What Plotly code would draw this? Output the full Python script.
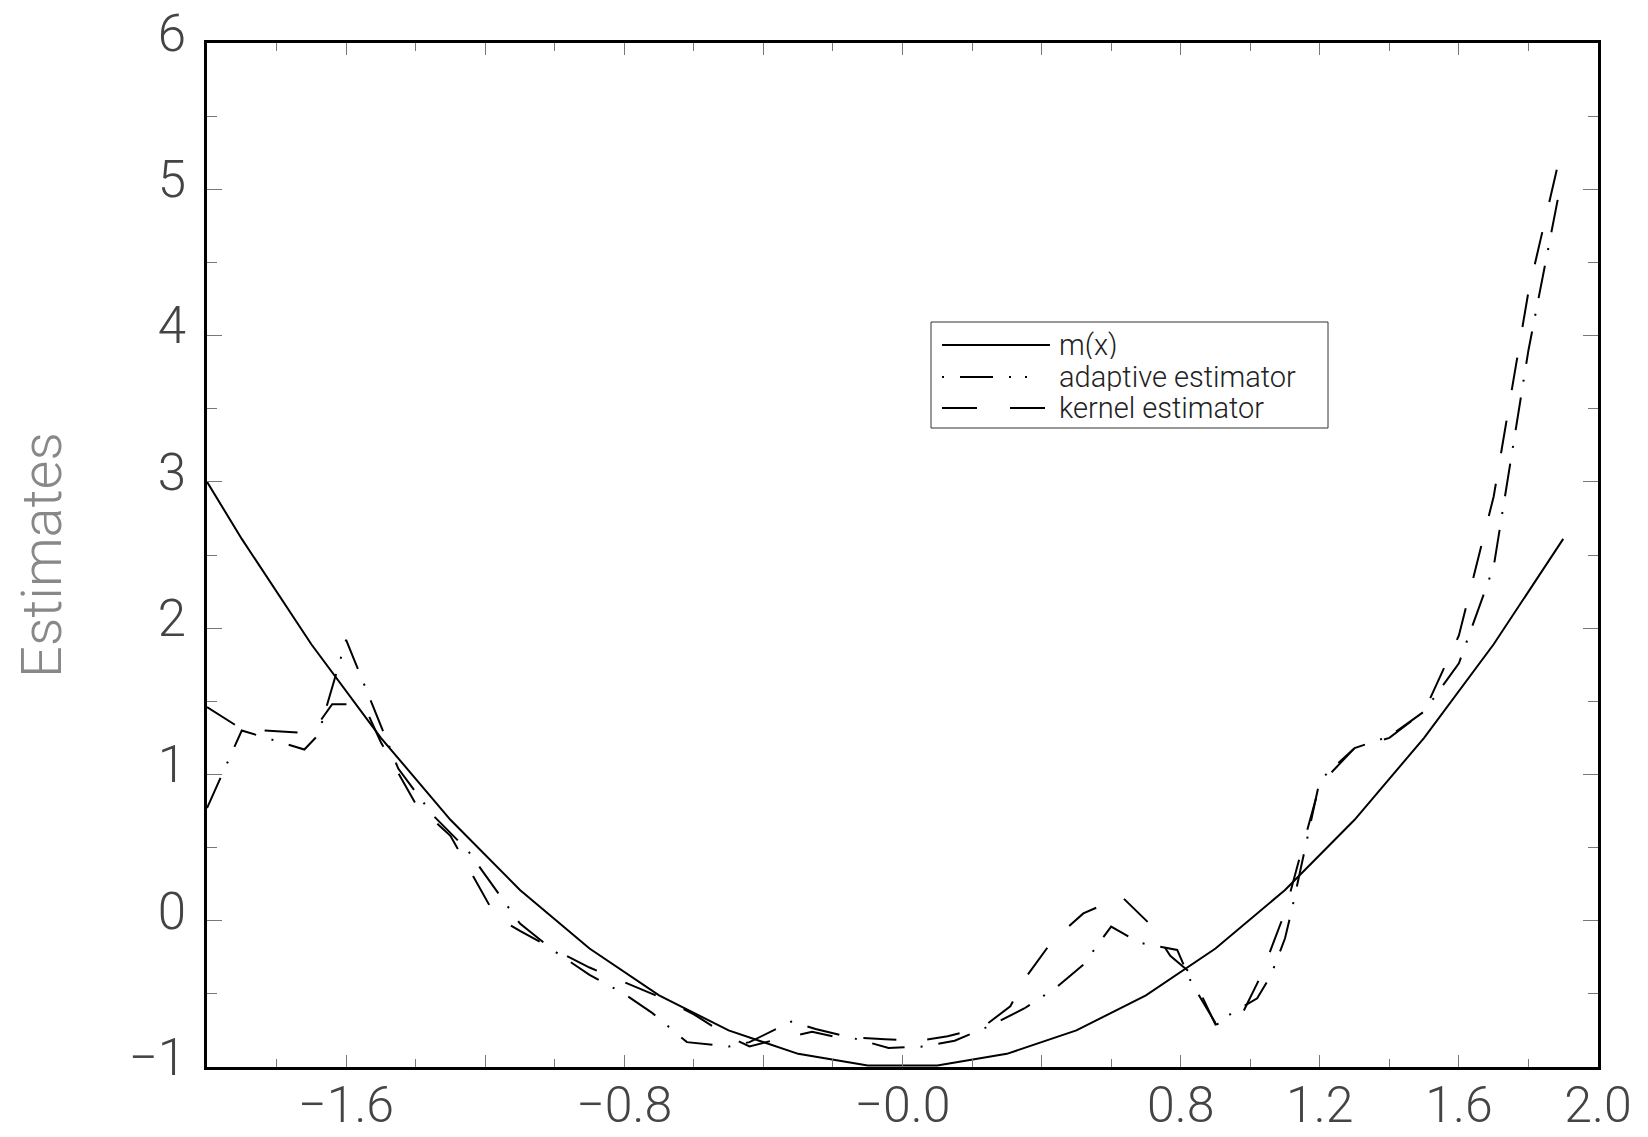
import plotly.graph_objects as go

# true regression function m(x)
x_true = [-2.0, -1.9, -1.7, -1.5, -1.3, -1.1, -0.9, -0.7, -0.5, -0.3, -0.1,
          0.1, 0.3, 0.5, 0.7, 0.9, 1.1, 1.3, 1.5, 1.7, 1.9]
m_true = [3.00, 2.61, 1.89, 1.25, 0.69, 0.21, -0.19, -0.51, -0.75, -0.91, -0.99,
          -0.99, -0.91, -0.75, -0.51, -0.19, 0.21, 0.69, 1.25, 1.89, 2.61]

# adaptive estimator
x_adapt = [-2.00, -1.90, -1.72, -1.68, -1.60, -1.45, -1.35, -1.25, -1.10, -1.00,
           -0.90, -0.80, -0.72, -0.62, -0.50, -0.44, -0.32, -0.25, -0.13, -0.04,
           0.06, 0.15, 0.25, 0.35, 0.44, 0.52, 0.60, 0.68, 0.79, 0.83,
           0.90, 1.02, 1.06, 1.10, 1.12, 1.20, 1.30, 1.40, 1.50, 1.60,
           1.70, 1.80, 1.89]
y_adapt = [0.77, 1.30, 1.17, 1.27, 1.92, 1.04, 0.72, 0.48, -0.02, -0.21,
           -0.37, -0.50, -0.63, -0.83, -0.86, -0.83, -0.69, -0.74, -0.81, -0.87,
           -0.86, -0.82, -0.72, -0.60, -0.46, -0.30, -0.04, -0.15, -0.20, -0.42,
           -0.70, -0.53, -0.37, -0.12, 0.08, 0.96, 1.18, 1.26, 1.43, 1.76,
           2.42, 3.90, 5.00]

# kernel estimator
x_kern = [-2.00, -1.90, -1.70, -1.64, -1.55, -1.50, -1.40, -1.30, -1.17, -1.10,
          -1.00, -0.90, -0.80, -0.70, -0.60, -0.50, -0.44, -0.36, -0.26, -0.20,
          -0.05, 0.05, 0.13, 0.23, 0.31, 0.36, 0.43, 0.52, 0.63, 0.71,
          0.77, 0.83, 0.90, 0.97, 1.03, 1.10, 1.15, 1.20, 1.30, 1.40,
          1.50, 1.60, 1.70, 1.80, 1.885]
y_kern = [1.46, 1.31, 1.28, 1.48, 1.48, 1.22, 0.80, 0.58, 0.03, -0.07,
          -0.20, -0.32, -0.42, -0.52, -0.64, -0.79, -0.86, -0.81, -0.76, -0.79,
          -0.81, -0.82, -0.79, -0.73, -0.585, -0.37, -0.14, 0.05, 0.165, -0.02,
          -0.24, -0.36, -0.71, -0.67, -0.38, 0.06, 0.50, 0.93, 1.18, 1.25,
          1.43, 1.95, 2.90, 4.30, 5.17]

x_tickvals = [-2.0, -1.6, -1.2, -0.8, -0.4, 0.0, 0.4, 0.8, 1.2, 1.6, 2.0]
x_ticktext = ["", "\u22121.6", "", "\u22120.8", "", "\u22120.0", "", "0.8", "1.2", "1.6", "2.0"]
y_tickvals = [-1, 0, 1, 2, 3, 4, 5, 6]
y_ticktext = ["\u22121", "0", "1", "2", "3", "4", "5", "6"]

series_names = ["m(x)", "adaptive estimator", "kernel estimator"]
series_dash = ["solid", "33px,16px,2px,16px", "33px,31px"]
legend_dash = ["solid", "2px,16px,33px,16px,2px,14px,2px,40px", "35px,33px,35px,40px"]

FONT = "Roboto"
W, H = 1648, 1137
ML, MR, MT, MB = 207, 50, 43, 70
PW, PH = W - ML - MR, H - MT - MB


def px_x(X):
    return (X - ML) / PW


def px_y(Y):
    return (H - MB - Y) / PH


fig = go.Figure()
for xs, ys, nm, ds in zip([x_true, x_adapt, x_kern], [m_true, y_adapt, y_kern],
                          series_names, series_dash):
    fig.add_trace(go.Scatter(x=xs, y=ys, mode="lines", name=nm,
                             line=dict(color="black", width=2, dash=ds),
                             showlegend=False))

# hand-drawn legend box (as in the original)
shapes = [dict(type="rect", xref="paper", yref="paper",
               x0=px_x(931), x1=px_x(1328), y0=px_y(428), y1=px_y(322),
               line=dict(color="#333", width=1), fillcolor="white", layer="above")]
annotations = []
row_y = [345, 377, 408]
for nm, ds, ry in zip(series_names, legend_dash, row_y):
    shapes.append(dict(type="line", xref="paper", yref="paper",
                       x0=px_x(942), x1=px_x(1050), y0=px_y(ry), y1=px_y(ry),
                       line=dict(color="black", width=2, dash=ds), layer="above"))
    annotations.append(dict(xref="paper", yref="paper", x=px_x(1058), y=px_y(ry),
                            xanchor="left", yanchor="middle", showarrow=False,
                            height=28, valign="middle", borderpad=0,
                            text=nm, font=dict(family=FONT, size=29, color="#222",
                                               weight=300)))

fig.update_layout(
    width=W, height=H,
    margin=dict(l=ML, r=MR, t=MT, b=MB, autoexpand=False),
    paper_bgcolor="white", plot_bgcolor="white",
    showlegend=False, shapes=shapes, annotations=annotations,
)
fig.update_xaxes(
    range=[-2, 2], tickmode="array", tickvals=x_tickvals, ticktext=x_ticktext,
    ticks="inside", ticklen=12, tickwidth=1, tickcolor="#777",
    showline=True, linewidth=2.5, linecolor="black", mirror="ticks",
    showgrid=False, zeroline=False,
    tickfont=dict(family=FONT, size=50, color="#444", weight=300),
    ticklabelstandoff=-8,
    minor=dict(tickmode="linear", tick0=-2, dtick=0.2, ticks="inside", ticklen=8,
               tickcolor="#777", tickwidth=1, showgrid=False),
)
fig.update_yaxes(
    range=[-1, 6], tickmode="array", tickvals=y_tickvals, ticktext=y_ticktext,
    ticks="inside", ticklen=15, tickwidth=1, tickcolor="#777",
    showline=True, linewidth=2.5, linecolor="black", mirror="ticks",
    showgrid=False, zeroline=False,
    tickfont=dict(family=FONT, size=51, color="#444", weight=300),
    ticklabelstandoff=8, ticklabelshift=-10,
    minor=dict(tickmode="linear", tick0=-1, dtick=0.5, ticks="inside", ticklen=10,
               tickcolor="#777", tickwidth=1, showgrid=False),
    title=dict(text="Estimates", font=dict(family=FONT, size=56, color="#888", weight=300),
               standoff=50),
)

fig.write_html("out.html")
